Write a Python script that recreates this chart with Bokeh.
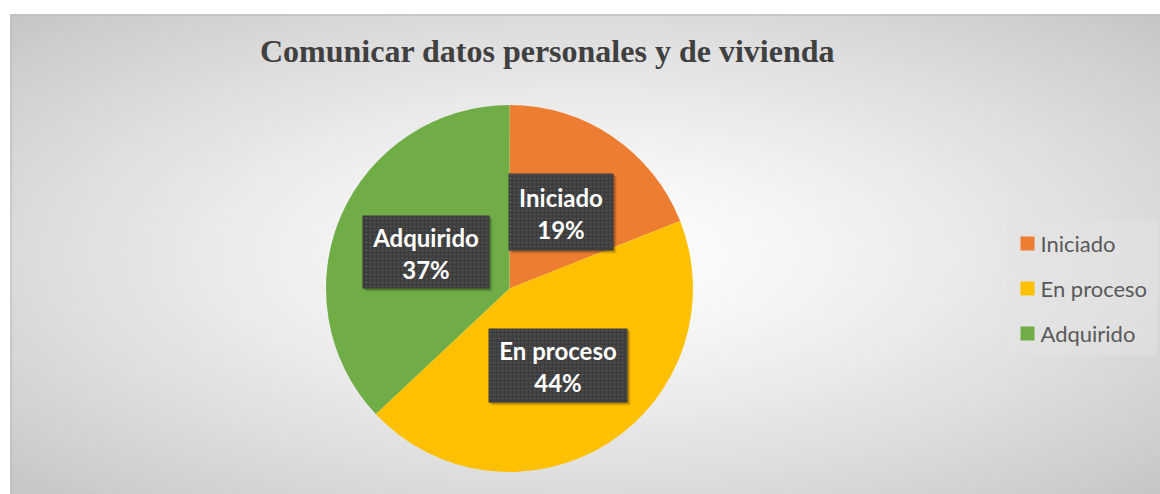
import numpy as np
from bokeh.plotting import figure
from bokeh.models import ColumnDataSource, Range1d
from bokeh.core.properties import value
from bokeh.embed import file_html
from bokeh.resources import INLINE

# ---- data ----
title = "Comunicar datos personales y de vivienda"
categories = ["Iniciado", "En proceso", "Adquirido"]
values = [19, 44, 37]
colors = ["#ED7D31", "#FFC000", "#70AD47"]

# ---- layout constants (pixels in the plot frame, y up) ----
W, H = 1160, 494
FW, FH = 1150, 480
PIE_X, PIE_Y, PIE_R = 499, 206, 183.5
LBL_X = [550.5, 547.5, 415.5]
LBL_Y = [282.5, 129, 242.5]
LBL_W = [105, 139, 127]
LBL_H = [77, 74, 73]

p = figure(width=W, height=H, output_backend="svg", toolbar_location=None,
           x_range=Range1d(0, FW), y_range=Range1d(0, FH),
           x_axis_location=None, y_axis_location=None, tools="")
p.min_border = 0
p.min_border_left = 10
p.min_border_top = 14
p.min_border_right = 0
p.min_border_bottom = 0
p.grid.visible = False
p.outline_line_color = None
p.background_fill_color = "#c4c4c4"
p.border_fill_color = "white"

# radial gradient background
cx, cy, A, B = 575, 240, 830, 350
N = 70
ts = np.linspace(1.0, 0.0, N, endpoint=False)
gs = [int(round(255 - 59 * t ** 1.3)) for t in ts]
p.ellipse(x=[cx] * N, y=[cy] * N, width=list(2 * A * ts), height=list(2 * B * ts),
          fill_color=[f"#{g:02x}{g:02x}{g:02x}" for g in gs], line_color=None)

# border (top and left)
p.segment(x0=[0, 0.5], y0=[FH - 0.5, 0], x1=[FW, 0.5], y1=[FH - 0.5, FH],
          line_color="#bcbcbc", line_width=1.5)

# title
p.text(x=[537], y=[444], text=[title], text_align="center", text_baseline="middle",
       text_font=value("Liberation Serif"), text_font_style="bold",
       text_font_size="32px", text_color="#404040")

# pie
frac = np.array(values, dtype=float) / sum(values)
cum = np.cumsum(frac)
start = np.pi / 2 - 2 * np.pi * np.concatenate([[0], cum[:-1]])
end = np.pi / 2 - 2 * np.pi * cum
src = ColumnDataSource(dict(start=list(end), end=list(start), color=colors))
p.wedge(x=PIE_X, y=PIE_Y, radius=PIE_R, start_angle="start", end_angle="end",
        direction="anticlock", fill_color="color", line_color=None, source=src)

# data labels
pcts = [f"{round(f * 100)}%" for f in frac]
for k, a in [(4, 0.10), (3, 0.12), (2, 0.14)]:
    p.rect(x=[x + k - 1 for x in LBL_X], y=[y - k + 1 for y in LBL_Y], width=LBL_W, height=LBL_H,
           fill_color="black", fill_alpha=a, line_color=None)
p.rect(x=LBL_X, y=LBL_Y, width=LBL_W, height=LBL_H, fill_color="#3d3d3d",
       line_color=None, hatch_pattern="dot", hatch_color="#5c5c5c", hatch_scale=4,
       hatch_alpha=0.8)
p.text(x=LBL_X, y=[y + 15 for y in LBL_Y], text=categories, text_align="center",
       text_baseline="middle", text_font=value("Lato"), text_font_style="bold",
       text_font_size="24px", text_color="white")
p.text(x=LBL_X, y=[y - 17 for y in LBL_Y], text=pcts, text_align="center",
       text_baseline="middle", text_font=value("Lato"), text_font_style="bold",
       text_font_size="24px", text_color="white")

# legend
p.rect(x=[1072], y=[206.5], width=150, height=135, fill_color="#e4e4e4",
       fill_alpha=0.5, line_color=None)
LEG_Y = [251, 206, 161]
p.rect(x=[1017] * 3, y=LEG_Y, width=14, height=14, fill_color=colors, line_color=None)
p.text(x=[1030] * 3, y=LEG_Y, text=categories, text_align="left", text_baseline="middle",
       text_font=value("Lato"), text_font_size="22px", text_color="#595959")

open("out.html", "w").write(file_html(p, INLINE))
